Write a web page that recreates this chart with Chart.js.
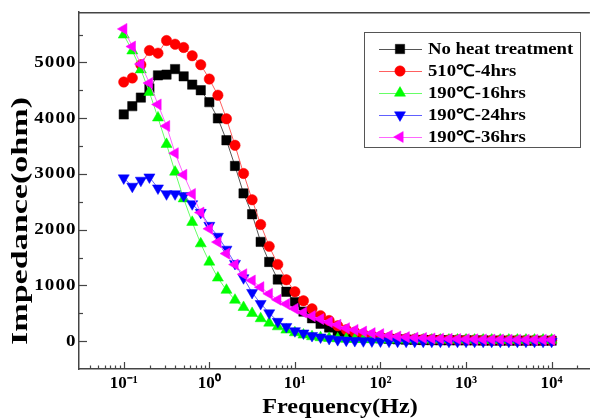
<!DOCTYPE html>
<html><head><meta charset="utf-8">
<script src="https://cdn.jsdelivr.net/npm/chart.js@4/dist/chart.umd.min.js"></script>
<style>html,body{margin:0;padding:0;background:#fff}#wrap{width:597px;height:419px}</style>
</head><body><div id="wrap"><canvas id="c" width="597" height="419"></canvas></div>
<script>
// Frequency (Hz), 10 points per decade
const frequencies = [0.1, 0.1259, 0.1585, 0.1995, 0.2512, 0.3162, 0.3981, 0.5012, 0.631, 0.7943,
  1, 1.259, 1.585, 1.995, 2.512, 3.162, 3.981, 5.012, 6.31, 7.943,
  10, 12.59, 15.85, 19.95, 25.12, 31.62, 39.81, 50.12, 63.1, 79.43,
  100, 125.9, 158.5, 199.5, 251.2, 316.2, 398.1, 501.2, 631, 794.3,
  1000, 1259, 1585, 1995, 2512, 3162, 3981, 5012, 6310, 7943, 10000];

const seriesLabels = ['No heat treatment', '510\u2103-4hrs', '190\u2103-16hrs', '190\u2103-24hrs', '190\u2103-36hrs'];

const noHeat = [4066, 4214, 4369, 4535, 4767, 4780, 4880, 4750, 4601, 4500,
  4286, 3995, 3603, 3142, 2650, 2276, 1780, 1420, 1106, 885,
  700, 530, 410, 312, 245, 170, 130, 100, 80, 62,
  50, 40, 33, 27, 23, 20, 18, 16, 15, 14,
  13, 12, 11, 10, 10, 9, 9, 8, 8, 8, 8];

const heat510_4 = [4648, 4720, 4958, 5213, 5165, 5392, 5326, 5267, 5119, 4958,
  4701, 4411, 3988, 3513, 3007, 2535, 2092, 1700, 1376, 1100,
  885, 724, 580, 458, 370, 275, 205, 160, 125, 98,
  78, 62, 50, 42, 36, 31, 28, 25, 23, 21,
  20, 19, 18, 17, 16, 16, 15, 15, 15, 14, 14];

const heat190_16 = [5493, 5208, 4869, 4464, 4006, 3531, 3034, 2555, 2133, 1748,
  1420, 1134, 915, 737, 606, 499, 405, 326, 260, 201,
  153, 112, 82, 64, 52, 44, 38, 34, 31, 29,
  27, 26, 25, 24, 24, 23, 23, 22, 22, 22,
  22, 21, 21, 21, 21, 21, 21, 21, 21, 21, 21];

const heat190_24 = [2925, 2775, 2883, 2942, 2744, 2640, 2640, 2609, 2461, 2306,
  2074, 1878, 1646, 1391, 1134, 870, 672, 505, 352, 260,
  184, 143, 98, 71, 45, 25, 15, 8, 4, 2,
  0, -2, -3, -4, -5, -5, -5, -5, -5, -5,
  -5, -5, -5, -5, -5, -5, -5, -5, -5, -5, -5];

const heat190_36 = [5600, 5284, 4969, 4630, 4245, 3858, 3371, 2984, 2640, 2306,
  2015, 1776, 1570, 1373, 1200, 1087, 968, 850, 743, 665,
  582, 513, 448, 395, 341, 293, 232, 201, 171, 143,
  125, 100, 82, 71, 62, 55, 48, 44, 40, 37,
  34, 32, 30, 28, 27, 26, 25, 25, 24, 24, 23];

// y ticks: labelled majors and unlabelled minors
const yTickValues = [0, 1000, 2000, 3000, 4000, 5000];
const yMinorTicks = [500, 1500, 2500, 3500, 4500, 5500];
const xTickLabels = {'-1': '10\u207B\u00B9', '0': '10\u2070', '1': '10\u00B9', '2': '10\u00B2', '3': '10\u00B3', '4': '10\u2074'};

const seriesValues = [noHeat, heat510_4, heat190_16, heat190_24, heat190_36];
const markerColors = ['#000000', '#ff0000', '#00ff00', '#0000ff', '#ff00ff'];
const lineColors = ['#555555', '#ff6060', '#66ff66', '#6060ff', '#ff66ff'];
const pointStyles = ['rect', 'circle', 'triangle', 'triangle', 'triangle'];
const pointRotations = [0, 0, 0, 180, -90];
const pointRadii = [6.6, 5.2, 6.4, 6.4, 6.4];

const FONT = '"Liberation Serif", "Times New Roman", serif';

const datasets = seriesValues.map((vals, i) => ({
  label: seriesLabels[i],
  data: frequencies.map((f, j) => ({x: f, y: vals[j]})),
  borderColor: lineColors[i],
  borderWidth: 1,
  pointBackgroundColor: markerColors[i],
  pointBorderColor: markerColors[i],
  pointBorderWidth: 0.5,
  pointStyle: pointStyles[i],
  pointRotation: pointRotations[i],
  pointRadius: pointRadii[i],
  tension: 0,
  fill: false,
  order: 5 - i
}));

function isPow10(v) {
  const l = Math.log10(v);
  return Math.abs(l - Math.round(l)) < 1e-6;
}

// widen the y tick labels (anchored at their right edge), as in the reference
const spacingPlugin = {
  id: 'yWide',
  beforeDraw(chart) {
    const ys = chart.scales.y;
    if (ys && !ys._wideLabels) {
      const orig = ys.drawLabels;
      ys.drawLabels = function (area) {
        const ctx = chart.ctx;
        const ax = this.right;
        ctx.save();
        if ('letterSpacing' in ctx) ctx.letterSpacing = '1px';
        ctx.translate(ax, 0); ctx.scale(1.12, 1); ctx.translate(-ax, 0);
        orig.call(this, area);
        ctx.restore();
      };
      ys._wideLabels = true;
    }
  }
};

const decorPlugin = {
  id: 'decor',
  afterDraw(chart) {
    const {ctx, chartArea: a, scales: {x, y}} = chart;
    ctx.save();
    ctx.strokeStyle = '#444';
    ctx.lineWidth = 1.5;
    ctx.beginPath(); ctx.moveTo(a.left, a.top + 0.5); ctx.lineTo(a.right, a.top + 0.5); ctx.stroke();
    ctx.lineWidth = 1.2;
    x.ticks.forEach(t => {
      const v = t.value;
      const e = Math.floor(Math.log10(v) + 1e-9);
      const s = v / Math.pow(10, e);
      if (Math.abs(s - Math.round(s)) > 1e-6) return;
      const px = Math.round(x.getPixelForValue(v)) + 0.5;
      if (px <= a.left + 2 || px >= a.right - 1) return;
      const len = Math.round(s) === 1 ? 7 : 3.5;
      ctx.beginPath(); ctx.moveTo(px, a.bottom); ctx.lineTo(px, a.bottom - len); ctx.stroke();
    });
    y.ticks.forEach(t => {
      const v = Math.round(t.value);
      const py = Math.round(y.getPixelForValue(v)) + 0.5;
      const len = yTickValues.includes(v) ? 8 : 4;
      ctx.beginPath(); ctx.moveTo(a.left, py); ctx.lineTo(a.left + len, py); ctx.stroke();
    });

    // axis titles
    ctx.fillStyle = '#000';
    ctx.textBaseline = 'middle';
    ctx.textAlign = 'center';
    ctx.font = 'bold 22px ' + FONT;
    ctx.save(); ctx.translate(340, 407); ctx.scale(1.1, 1); ctx.fillText('Frequency(Hz)', 0, 0); ctx.restore();
    ctx.font = 'bold 24px ' + FONT;
    ctx.save(); ctx.translate(21, 221); ctx.rotate(-Math.PI / 2); ctx.scale(1.42, 1); ctx.fillText('Impedance(ohm)', 0, 0); ctx.restore();

    // legend
    ctx.strokeStyle = '#555';
    ctx.lineWidth = 1;
    ctx.strokeRect(364.5, 32.5, 216, 115);
    const rows = [49, 71, 93, 115, 137];
    ctx.font = 'bold 16px ' + FONT;
    ctx.textAlign = 'left';
    seriesLabels.forEach((lab, i) => {
      const ry = rows[i];
      ctx.strokeStyle = lineColors[i];
      ctx.lineWidth = 1;
      ctx.beginPath(); ctx.moveTo(379, ry + 0.5); ctx.lineTo(422, ry + 0.5); ctx.stroke();
      ctx.fillStyle = markerColors[i];
      ctx.strokeStyle = markerColors[i];
      ctx.lineWidth = 0.5;
      Chart.helpers.drawPoint(ctx, {pointStyle: pointStyles[i], rotation: pointRotations[i], radius: pointRadii[i], borderWidth: 0.5}, 400, ry);
      ctx.fillStyle = '#000';
      ctx.save(); ctx.translate(428, ry + 1); ctx.scale(1.17, 1); ctx.fillText(lab, 0, 0); ctx.restore();
    });
    ctx.restore();
  }
};

new Chart(document.getElementById('c'), {
  type: 'line',
  data: {datasets},
  plugins: [spacingPlugin, decorPlugin],
  options: {
    responsive: false,
    animation: false,
    devicePixelRatio: 1,
    layout: {padding: {top: 11, right: 0, left: 0, bottom: 0}},
    plugins: {legend: {display: false}, tooltip: {enabled: false}},
    scales: {
      x: {
        type: 'logarithmic',
        position: 'bottom',
        min: 0.03,
        max: 28000,
        grid: {display: false, drawTicks: false},
        border: {display: true, color: '#444', width: 1.5},
        ticks: {
          autoSkip: false, maxRotation: 0, minRotation: 0, padding: 4,
          color: '#000',
          font: {family: FONT, weight: 'bold', size: 17},
          callback: (v) => isPow10(v) ? (xTickLabels[String(Math.round(Math.log10(v)))] || '') : ''
        },
        afterFit: s => { s.height = 50; }
      },
      y: {
        type: 'linear',
        min: -500,
        max: 5900,
        grid: {display: false, drawTicks: false},
        border: {display: true, color: '#444', width: 1.5},
        afterBuildTicks: s => {
          s.ticks = yTickValues.concat(yMinorTicks).sort((p, q) => p - q).map(v => ({value: v}));
        },
        ticks: {
          autoSkip: false, padding: 2, color: '#000',
          font: {family: FONT, weight: 'bold', size: 17},
          callback: (v) => yTickValues.includes(Math.round(v)) ? String(Math.round(v)) : ''
        },
        afterFit: s => { s.width = 79; }
      }
    }
  }
});
</script></body></html>
